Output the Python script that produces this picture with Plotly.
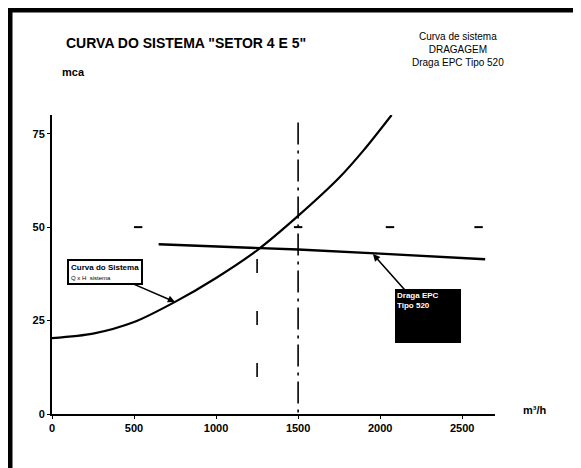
import plotly.graph_objects as go

# ---- data ----
system_q = [0, 250, 500, 750, 1000, 1250, 1500, 1750, 1900, 2070]
system_h = [20.3, 21.5, 24.6, 30.0, 36.4, 43.8, 53.0, 63.2, 70.6, 80.0]

pump_q = [650, 1250, 1500, 2000, 2640]
pump_h = [45.4, 44.4, 44.0, 42.9, 41.4]

op_q_1 = 1250          # dashed vertical line
op_h_1 = 41.5
op_q_2 = 1500          # dash-dot vertical line
op_h_2 = 78.0

grid_mark_q = [525, 1500, 2060, 2600]
grid_mark_h = [50, 50, 50, 50]

x_ticks = [0, 500, 1000, 1500, 2000, 2500]
x_tick_text = ["0", "500", "1000", "1500", "2000", "2500"]
y_ticks = [0, 25, 50, 75]
y_tick_text = ["0", "25", "50", "75"]

title_text = 'CURVA DO SISTEMA "SETOR 4 E 5"'
info_lines = ["Curva de sistema", "DRAGAGEM", "Draga EPC Tipo 520"]
sys_label = "<b>Curva do Sistema</b><br><span style='font-size:6px'>Q x H  sistema</span>"
pump_label = "<b>Draga EPC</b><br><b>Tipo 520</b>"

FONT = "Liberation Sans Narrow, Liberation Sans, Arial, sans-serif"

# page body has an 8px margin; figure pixel = screen pixel - OFF
OFF = 8
W, H = 581 - OFF, 468 - OFF
L, R, T, B = 52 - OFF, 495 - OFF, 115 - OFF, 414 - OFF

def px(x):
    return (x - OFF - L) / (R - L)
def py(y):
    return (B - (y - OFF)) / (B - T)

fig = go.Figure()

fig.add_trace(go.Scatter(x=system_q, y=system_h, mode="lines",
                         line=dict(color="black", width=2.2, shape="spline", smoothing=0.8),
                         hoverinfo="skip", showlegend=False))
fig.add_trace(go.Scatter(x=pump_q, y=pump_h, mode="lines",
                         line=dict(color="black", width=2.4),
                         hoverinfo="skip", showlegend=False))
fig.add_trace(go.Scatter(x=[op_q_1, op_q_1], y=[op_h_1, 0], mode="lines",
                         line=dict(color="black", width=1.6, dash="14px,38px"),
                         hoverinfo="skip", showlegend=False))
fig.add_trace(go.Scatter(x=[op_q_2, op_q_2], y=[op_h_2, 0], mode="lines",
                         line=dict(color="black", width=1.6, dash="22px,6px,3px,6px"),
                         hoverinfo="skip", showlegend=False))
fig.add_trace(go.Scatter(x=grid_mark_q, y=grid_mark_h, mode="markers",
                         marker=dict(symbol="line-ew", size=6,
                                     line=dict(color="black", width=2)),
                         hoverinfo="skip", showlegend=False))

fig.update_xaxes(range=[0, 2700], tickvals=x_ticks, ticktext=x_tick_text,
                 showgrid=False, zeroline=False, showline=True,
                 linecolor="black", linewidth=2, ticks="outside", ticklen=3,
                 tickcolor="black", tickfont=dict(family=FONT, size=11, color="black", weight="bold"))
fig.update_yaxes(range=[0, 80], tickvals=y_ticks, ticktext=y_tick_text,
                 showgrid=False, zeroline=False, showline=True,
                 linecolor="black", linewidth=2, ticks="outside", ticklen=3,
                 tickcolor="black", tickfont=dict(family=FONT, size=11, color="black", weight="bold"))

annotations = [
    dict(text=title_text, xref="paper", yref="paper", x=px(64), y=py(43),
         xanchor="left", yanchor="middle", showarrow=False,
         font=dict(family=FONT, size=14, color="black", weight="bold")),
    dict(text="mca", xref="paper", yref="paper", x=px(60), y=py(72),
         xanchor="left", yanchor="middle", showarrow=False,
         font=dict(family=FONT, size=11, color="black", weight="bold")),
    dict(text="m³/h", xref="paper", yref="paper", x=px(535), y=py(410),
         xanchor="center", yanchor="middle", showarrow=False,
         font=dict(family=FONT, size=11, color="black", weight="bold")),
    dict(text="<br>".join(info_lines), xref="paper", yref="paper", x=px(458), y=py(50),
         xanchor="center", yanchor="middle", showarrow=False, align="center",
         font=dict(family=FONT, size=10, color="black")),
    dict(text=sys_label, x=750, y=30.0, xref="x", yref="y",
         ax=-70, ay=-30, showarrow=True, arrowhead=2, arrowsize=0.9, arrowwidth=1.6,
         arrowcolor="black", bgcolor="white", bordercolor="black", borderwidth=2,
         borderpad=2, font=dict(family=FONT, size=8, color="black"), align="left"),
    dict(text=pump_label, x=1956, y=42.8, xref="x", yref="y",
         ax=55, ay=62, showarrow=True, arrowhead=2, arrowsize=0.9, arrowwidth=1.6,
         arrowcolor="black", bgcolor="black", bordercolor="black", borderwidth=1,
         width=62, height=50, valign="top", align="left",
         font=dict(family=FONT, size=8, color="white")),
]

shapes = [
    # scanned page frame: thick left and top borders
    dict(type="line", xref="paper", yref="paper", x0=px(10), x1=px(10),
         y0=py(9), y1=py(470), line=dict(color="black", width=5)),
    dict(type="line", xref="paper", yref="paper", x0=px(8), x1=px(583),
         y0=py(10), y1=py(10), line=dict(color="black", width=5)),
]

fig.update_layout(width=W, height=H,
                  margin=dict(l=L, r=W - R, t=T, b=H - B),
                  paper_bgcolor="white", plot_bgcolor="white",
                  annotations=annotations, shapes=shapes, showlegend=False)

fig.write_html("out.html")
